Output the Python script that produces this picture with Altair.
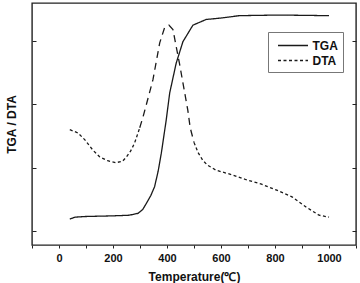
import altair as alt
import pandas as pd

# TGA curve (solid)
tga_t = [40, 60, 100, 200, 260, 293, 310, 324, 340, 354, 367, 379, 397, 410, 434, 459, 496, 545, 594, 668, 815, 1000]
tga_v = [0.19, 0.22, 0.23, 0.24, 0.25, 0.28, 0.34, 0.44, 0.56, 0.70, 0.94, 1.23, 1.75, 2.18, 2.65, 2.99, 3.25, 3.34, 3.36, 3.40, 3.41, 3.40]

# DTA curve (dashed)
dta_t = [40, 70, 96, 125, 151, 180, 210, 235, 250, 265, 280, 299, 311, 330, 348, 373, 391, 407, 422, 446, 459, 477, 486, 500, 515, 532, 550, 582, 640, 693, 750, 804, 863, 915, 963, 1000]
dta_v = [1.60, 1.55, 1.44, 1.28, 1.17, 1.11, 1.08, 1.10, 1.17, 1.26, 1.39, 1.63, 1.80, 2.10, 2.39, 2.97, 3.21, 3.25, 3.18, 2.65, 2.34, 1.91, 1.63, 1.40, 1.24, 1.12, 1.04, 0.96, 0.89, 0.81, 0.74, 0.65, 0.54, 0.38, 0.25, 0.22]

x_ticks = list(range(-100, 1101, 100))
y_ticks = [0, 1, 2, 3]

rows = []
for t, v in zip(tga_t, tga_v):
    rows.append({"T": t, "v": v, "series": "TGA", "seg": "a"})
for t, v in zip(dta_t, dta_v):
    if t <= 299:
        rows.append({"T": t, "v": v, "series": "DTA", "seg": "b"})
    if 299 <= t <= 500:
        rows.append({"T": t, "v": v, "series": "DTA ", "seg": "c"})
    if t >= 500:
        rows.append({"T": t, "v": v, "series": "DTA", "seg": "d"})
df = pd.DataFrame(rows)

FONT = "Liberation Sans"
xdom = [-100, 1100]
ydom = [-0.22, 3.6]

xaxis = alt.Axis(values=x_ticks, title="Temperature(℃)",
                 labelExpr="(datum.value % 200 == 0 && datum.value >= 0 && datum.value <= 1000) ? datum.label : ''",
                 format="d", grid=False, domain=False, tickSize=3, tickColor="#222",
                 labelPadding=4, labelFontSize=11, labelFontWeight="bold", labelFont=FONT,
                 labelColor="#111", titleFont=FONT, titleFontSize=12, titleFontWeight="bold",
                 titleColor="#111", titlePadding=8)
xenc = alt.X("T:Q", scale=alt.Scale(domain=xdom, nice=False, zero=False), axis=xaxis)

lines = alt.Chart(df).mark_line(strokeWidth=1.3, color="#1a1a1a").encode(
    x=xenc,
    y=alt.Y("v:Q", scale=alt.Scale(domain=ydom, nice=False, zero=False),
            axis=alt.Axis(values=y_ticks, title="TGA / DTA", labels=False, ticks=False, domain=False,
                          grid=False, titleFont=FONT, titleFontSize=12, titleFontWeight="bold",
                          titleColor="#111", titlePadding=14)),
    strokeDash=alt.StrokeDash("series:N",
                              scale=alt.Scale(domain=["TGA", "DTA", "DTA "], range=[[1, 0], [3, 2.5], [7, 5]]),
                              legend=alt.Legend(values=["TGA", "DTA"], title=None, orient="none",
                                                legendX=236, legendY=29, strokeColor="#777",
                                                padding=5, symbolType="M-2,0H2", symbolSize=225,
                                                symbolOffset=11.5,
                                                symbolStrokeWidth=1.3, symbolStrokeColor="#1a1a1a",
                                                labelFont=FONT, labelFontSize=12, labelFontWeight="bold",
                                                labelColor="#111", labelOffset=11, rowPadding=0)),
    detail="seg:N",
)

tick_df = df[df["series"] == "TGA"]
left_ticks = alt.Chart(tick_df).mark_point(opacity=0).encode(
    x=xenc,
    y=alt.Y("v:Q", scale=alt.Scale(domain=ydom, nice=False, zero=False),
            axis=alt.Axis(orient="right", offset=-324, values=y_ticks, labels=False, title=None,
                          domain=False, grid=False, tickSize=4, tickColor="#222")),
)
right_ticks = alt.Chart(tick_df).mark_point(opacity=0).encode(
    x=xenc,
    y=alt.Y("v:Q", scale=alt.Scale(domain=ydom, nice=False, zero=False),
            axis=alt.Axis(orient="left", offset=-324, values=y_ticks, labels=False, title=None,
                          domain=False, grid=False, tickSize=4, tickColor="#222")),
)

chart = alt.layer(lines, left_ticks, right_ticks).resolve_scale(y="independent").properties(
    width=324, height=242,
    autosize=alt.AutoSizeParams(type="none"),
    padding={"left": 32, "top": 3, "right": 4, "bottom": 38},
    background="white",
).configure_view(stroke="#222", strokeWidth=1.4)

chart.save("out.html", embed_options={"renderer": "svg", "actions": False})
